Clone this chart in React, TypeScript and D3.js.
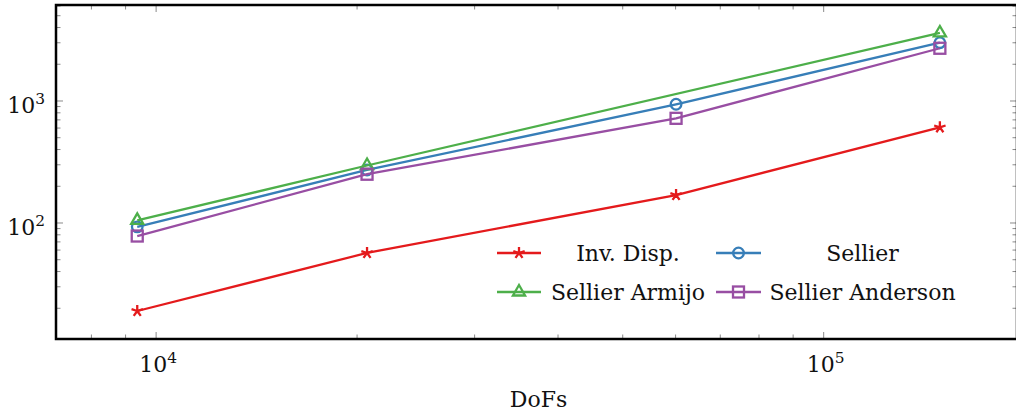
import React from 'react';
import * as d3 from 'd3';

// ---- data ----
const seriesNames = ['Inv. Disp.', 'Sellier', 'Sellier Armijo', 'Sellier Anderson'];
const seriesColors = ['#e41a1c', '#377eb8', '#4daf4a', '#984ea3'];
const seriesMarkers = ['star', 'circle', 'triangle', 'square'];

const invDispDofs = [9370, 20700, 60100, 149300];
const invDispTime = [19.0, 56.8, 169.6, 608];
const sellierDofs = [9370, 20700, 60100, 149300];
const sellierTime = [93, 272, 940, 3005];
const armijoDofs = [9370, 20700, 149300];
const armijoTime = [105, 296, 3610];
const andersonDofs = [9370, 20700, 60100, 149300];
const andersonTime = [78.2, 251, 721, 2705];

const xLimits = [7080, 194800];
const yLimits = [11.2, 6120];
const xMajorTicks = [1e4, 1e5];
const yMajorTicks = [1e2, 1e3];
const xLabel = 'DoFs';

const dofsList = [invDispDofs, sellierDofs, armijoDofs, andersonDofs];
const timeList = [invDispTime, sellierTime, armijoTime, andersonTime];

// ---- layout ----
const W = 1016, H = 414;
const L = 56, R = 1017, T = 5, B = 339;
const FONT = '"DejaVu Serif", serif';
const FS = 22;
const LW = 2.3;

function minorTicks(lo: number, hi: number): number[] {
  const out: number[] = [];
  for (let e = Math.floor(Math.log10(lo)); e <= Math.ceil(Math.log10(hi)); e++) {
    for (let m = 2; m <= 9; m++) {
      const v = m * Math.pow(10, e);
      if (v >= lo && v <= hi) out.push(v);
    }
  }
  return out;
}

function Marker({ type, x, y, color }: { type: string; x: number; y: number; color: string }) {
  const sw = LW;
  if (type === 'star') {
    const r = 6;
    const d = d3.range(5).map(k => {
      const a = (-90 + k * 72) * Math.PI / 180;
      return `M${x},${y}L${x + r * Math.cos(a)},${y + r * Math.sin(a)}`;
    }).join('');
    return <path d={d} stroke={color} strokeWidth={sw} fill="none" />;
  }
  if (type === 'circle') {
    return <circle cx={x} cy={y} r={5.3} stroke={color} strokeWidth={sw} fill="none" />;
  }
  if (type === 'triangle') {
    const r = 7;
    const pts = [90, 210, 330].map(deg => {
      const a = -deg * Math.PI / 180;
      return `${x + r * Math.cos(a)},${y + r * Math.sin(a)}`;
    }).join(' ');
    return <polygon points={pts} stroke={color} strokeWidth={sw} fill="none" />;
  }
  const s = 5.5;
  return <rect x={x - s} y={y - s} width={2 * s} height={2 * s} stroke={color} strokeWidth={sw} fill="none" />;
}

function PowLabel({ x, y, exp, anchor }: { x: number; y: number; exp: number; anchor: string }) {
  return (
    <text x={x} y={y} textAnchor={anchor} fontFamily={FONT} fontSize={FS} fill="#111">
      10<tspan fontSize={FS * 0.7} dy={-9}>{exp}</tspan>
    </text>
  );
}

export default function App() {
  const x = d3.scaleLog().domain(xLimits).range([L, R]);
  const y = d3.scaleLog().domain(yLimits).range([B, T]);
  const line = d3.line<[number, number]>().x(d => x(d[0])).y(d => y(d[1]));

  const xMinor = minorTicks(xLimits[0], xLimits[1]).filter(v => !xMajorTicks.includes(v));
  const yMinor = minorTicks(yLimits[0], yLimits[1]).filter(v => !yMajorTicks.includes(v));
  const tickColor = '#8a8a8a';
  const maj = 7, mnr = 4.5;

  // legend layout: 2 columns x 2 rows
  const legCols = [{ l0: 497, l1: 541, tc: 628 }, { l0: 716, l1: 761, tc: 862.5 }];
  const legRows = [253, 292];

  return (
    <div style={{ position: 'fixed', left: 0, top: 0 }}>
      <svg width={W} height={H} style={{ display: 'block', background: '#fff' }}>
        {/* ticks */}
        <g stroke={tickColor} strokeWidth={1}>
          {xMinor.map(v => (
            <g key={'xm' + v}>
              <line x1={x(v)} x2={x(v)} y1={B} y2={B - mnr} />
              <line x1={x(v)} x2={x(v)} y1={T} y2={T + mnr} />
            </g>
          ))}
          {xMajorTicks.map(v => (
            <g key={'xM' + v}>
              <line x1={x(v)} x2={x(v)} y1={B} y2={B - maj} />
              <line x1={x(v)} x2={x(v)} y1={T} y2={T + maj} />
            </g>
          ))}
          {yMinor.map(v => (
            <g key={'ym' + v}>
              <line x1={L} x2={L + mnr} y1={y(v)} y2={y(v)} />
              <line x1={R} x2={R - mnr} y1={y(v)} y2={y(v)} />
            </g>
          ))}
          {yMajorTicks.map(v => (
            <g key={'yM' + v}>
              <line x1={L} x2={L + maj} y1={y(v)} y2={y(v)} />
              <line x1={R} x2={R - maj} y1={y(v)} y2={y(v)} />
            </g>
          ))}
        </g>

        {/* series */}
        {seriesNames.map((name, i) => {
          const pts: [number, number][] = dofsList[i].map((d, j) => [d, timeList[i][j]]);
          return (
            <g key={name}>
              <path d={line(pts) || ''} stroke={seriesColors[i]} strokeWidth={LW} fill="none" />
              {pts.map((p, j) => (
                <Marker key={j} type={seriesMarkers[i]} x={x(p[0])} y={y(p[1])} color={seriesColors[i]} />
              ))}
            </g>
          );
        })}

        {/* frame */}
        <rect x={L} y={T} width={R - L} height={B - T} fill="none" stroke="#000" strokeWidth={2.5} />

        {/* tick labels */}
        {xMajorTicks.map(v => (
          <PowLabel key={'xl' + v} x={x(v) + 2} y={372} exp={Math.round(Math.log10(v))} anchor="middle" />
        ))}
        {yMajorTicks.map(v => (
          <PowLabel key={'yl' + v} x={45} y={y(v) + 12} exp={Math.round(Math.log10(v))} anchor="end" />
        ))}

        {/* axis label */}
        <text x={(L + R) / 2 + 2} y={407} textAnchor="middle" fontFamily={FONT} fontSize={FS} fill="#111">
          {xLabel}
        </text>

        {/* legend */}
        {seriesNames.map((name, i) => {
          const c = legCols[i % 2];
          const ry = legRows[Math.floor(i / 2)];
          return (
            <g key={'leg' + name}>
              <line x1={c.l0} x2={c.l1} y1={ry} y2={ry} stroke={seriesColors[i]} strokeWidth={LW} />
              <Marker type={seriesMarkers[i]} x={(c.l0 + c.l1) / 2} y={ry} color={seriesColors[i]} />
              <text x={c.tc} y={ry + 8} textAnchor="middle" fontFamily={FONT} fontSize={FS} fill="#111">
                {name}
              </text>
            </g>
          );
        })}
      </svg>
    </div>
  );
}
